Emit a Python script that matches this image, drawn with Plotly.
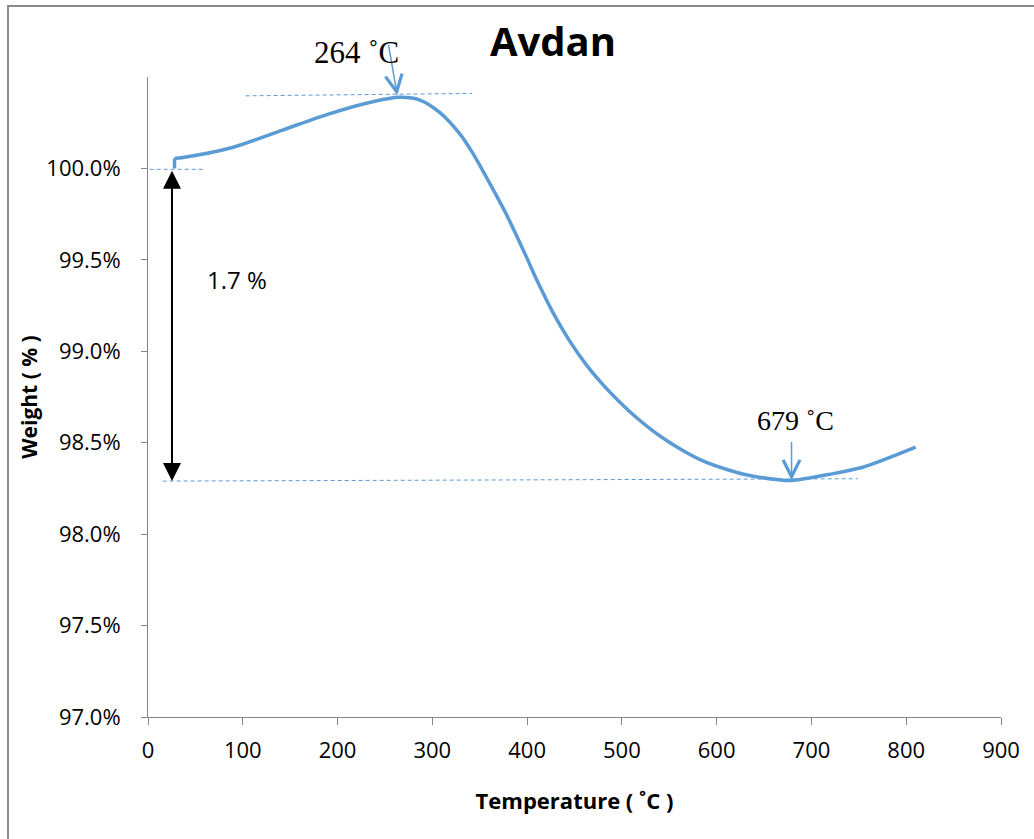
import plotly.graph_objects as go

# ---- data ----
temperature = [28, 28, 37, 86, 142, 192, 237, 265, 287, 308, 328.8, 342.8,
               360.4, 378, 399, 410, 427, 444.8, 462.5, 480, 497.6, 515, 532.7,
               550, 568, 585.5, 610, 631, 666, 679, 719, 754, 810]
weight = [100.0, 100.055, 100.06, 100.11, 100.21, 100.30, 100.365, 100.389,
          100.374, 100.305, 100.19, 100.082,
          99.92, 99.75, 99.519, 99.392, 99.214, 99.057, 98.926, 98.818, 98.723,
          98.639, 98.565, 98.503, 98.447, 98.401, 98.355, 98.325, 98.297,
          98.293, 98.327, 98.366, 98.476]

x_ticks = [0, 100, 200, 300, 400, 500, 600, 700, 800, 900]
y_ticks = [97.0, 97.5, 98.0, 98.5, 99.0, 99.5, 100.0]
y_tick_text = ["97.0%", "97.5%", "98.0%", "98.5%", "99.0%", "99.5%", "100.0%"]

peak_T, peak_W = 263, 100.40
min_T, min_W = 679, 98.294
start_W = 99.995
loss_label = "1.7 %"

# reference (dashed) lines: [x0, x1], [y0, y1]
peak_line_T = [103, 342]
peak_line_W = [100.397, 100.41]
start_line_T = [-5.6, 58]
start_line_W = [99.995, 99.995]
min_line_T = [15.5, 749]
min_line_W = [98.29, 98.303]

blue = "#5B9BD5"
axis_gray = "#868686"

fig = go.Figure()
# initial vertical jump
fig.add_trace(go.Scatter(x=temperature[:2], y=weight[:2], mode="lines",
                         line=dict(color=blue, width=3.5), showlegend=False,
                         hoverinfo="skip"))
fig.add_trace(go.Scatter(x=temperature[1:], y=weight[1:], mode="lines",
                         line=dict(color=blue, width=3.5, shape="spline",
                                   smoothing=0.8),
                         showlegend=False, hoverinfo="skip"))

for xs, ys in [(peak_line_T, peak_line_W), (start_line_T, start_line_W),
               (min_line_T, min_line_W)]:
    fig.add_trace(go.Scatter(x=xs, y=ys, mode="lines", cliponaxis=False,
                             line=dict(color=blue, width=1, dash="4px,3px"),
                             showlegend=False, hoverinfo="skip"))

serif = "Liberation Serif"
sans = "Open Sans"

annotations = [
    # blue peak arrow
    dict(x=peak_T, y=peak_W, xref="x", yref="y", ax=-9, ay=-52,
         showarrow=True, arrowhead=5, arrowsize=2.2, arrowwidth=1.5,
         arrowcolor=blue, text=""),
    dict(x=356, y=53, xref="paper", yref="paper", text="264 ˚C",
         showarrow=False, font=dict(family=serif, size=31, color="black")),
    # blue minimum arrow
    dict(x=min_T, y=min_W, xref="x", yref="y", ax=0, ay=-40,
         showarrow=True, arrowhead=5, arrowsize=2.2, arrowwidth=1.5,
         arrowcolor=blue, text=""),
    dict(x=795, y=420, xref="paper", yref="paper", text="679 ˚C",
         showarrow=False, font=dict(family=serif, size=28, color="black")),
    # black double arrow
    dict(x=25.3, y=98.29, xref="x", yref="y", ax=25.3, ay=start_W,
         axref="x", ayref="y", showarrow=True, arrowhead=2, arrowside="end+start",
         arrowsize=1.8, arrowwidth=2, arrowcolor="black", text=""),
    dict(x=237, y=279, xref="paper", yref="paper", text=loss_label,
         showarrow=False, font=dict(family=sans, size=24, color="black")),
]

# convert pixel-positioned text annotations to paper coords
L, R, T, B, W, H = 148, 33, 77, 122, 1034, 839
pw, ph = W - L - R, H - T - B
for a in annotations:
    if a["xref"] == "paper":
        a["x"] = (a["x"] - L) / pw
        a["y"] = (H - B - a["y"]) / ph
        a["xanchor"] = "center"
        a["yanchor"] = "middle"

fig.update_layout(
    width=W, height=H,
    margin=dict(l=L, r=R, t=T, b=B, autoexpand=False),
    paper_bgcolor="white", plot_bgcolor="white",
    title=dict(text="<b>Avdan</b>", x=(553 - L) / pw, xref="paper",
               xanchor="center", y=1 - 42 / H, yanchor="middle",
               font=dict(family=sans, size=40, color="black")),
    xaxis=dict(range=[0, 900], tickvals=x_ticks, showgrid=False, zeroline=False,
               showline=True, linecolor=axis_gray, linewidth=1,
               ticks="outside", ticklen=7, tickcolor=axis_gray, automargin=False,
               ticklabelstandoff=7,
               tickfont=dict(family=sans, size=22, color="black"),
               title=dict(text="<b>Temperature ( ˚C )</b>", standoff=30,
                          font=dict(family=sans, size=22, color="black"))),
    yaxis=dict(range=[97, 100.5], tickvals=y_ticks, ticktext=y_tick_text,
               showgrid=False, zeroline=False,
               showline=True, linecolor=axis_gray, linewidth=1,
               ticks="outside", ticklen=6, tickcolor=axis_gray, automargin=False,
               ticklabelstandoff=16,
               tickfont=dict(family=sans, size=22, color="black"),
               title=dict(text="<b>Weight ( % )</b>", standoff=2,
                          font=dict(family=sans, size=21, color="black"))),
    annotations=annotations,
    shapes=[dict(type="rect", xref="paper", yref="paper",
                 x0=(8 - L) / pw, x1=1.3, y0=-0.4, y1=(H - B - 6) / ph,
                 line=dict(color="#8a8a8a", width=2), layer="below")],
)

fig.write_html("out.html", config={"displayModeBar": False},
               post_script="document.body.style.margin='0px';")
